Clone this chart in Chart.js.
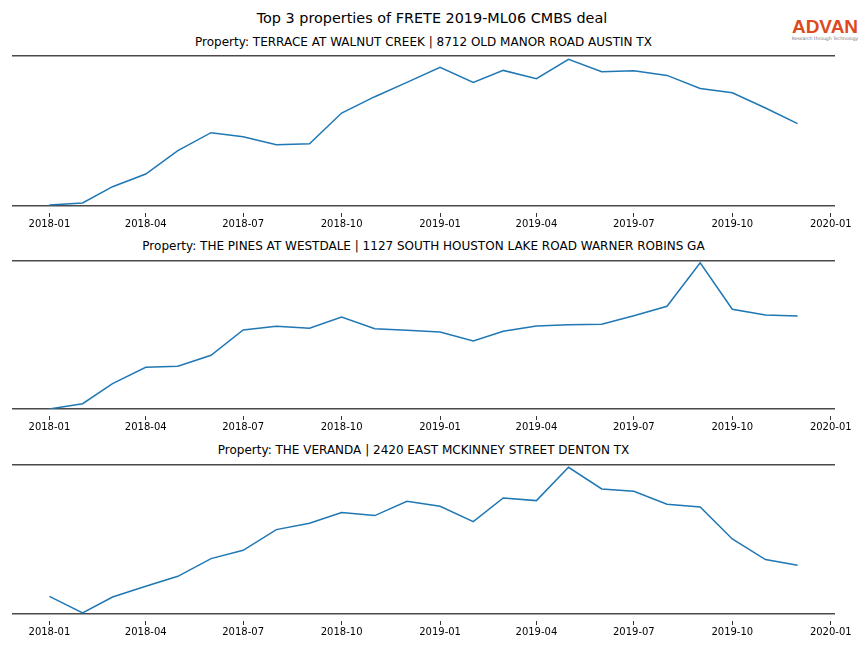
<!DOCTYPE html>
<html lang="en">
<head>
    <meta charset="UTF-8">
    <script src="https://cdn.jsdelivr.net/npm/chart.js"></script>
    <title>Top 3 properties of FRETE 2019-ML06 CMBS deal</title>
    <style>
        body { margin: 0; background: #fff; font-family: "DejaVu Sans", sans-serif; }
        #page { position: relative; width: 864px; height: 648px; overflow: hidden; }
        #titulo { position: absolute; top: 10px; left: 0; width: 864px; text-align: center; font-size: 14.4px; color: #000; }
        .sub { position: absolute; left: 12px; width: 823px; text-align: center; font-size: 12px; color: #000; }
        .painel { position: absolute; left: 0; width: 864px; }
        #logo { position: absolute; left: 788px; top: 17px; width: 74px; text-align: center; }
        #logo .marca { font-family: "Liberation Sans", sans-serif; font-weight: bold; font-size: 19px; color: #dd4a1e; line-height: 19px; }
        #logo .slogan { font-size: 4.5px; color: #777; line-height: 6px; white-space: nowrap; }
    </style>
</head>
<body>
<div id="page">
    <div id="titulo">Top 3 properties of FRETE 2019-ML06 CMBS deal</div>
    <div id="logo"><div class="marca">ADVAN</div><div class="slogan">Research through Technology</div></div>

    <div class="sub" style="top:35px">Property: TERRACE AT WALNUT CREEK | 8712 OLD MANOR ROAD AUSTIN TX</div>
    <div class="painel" style="top:51px;height:181px"><canvas id="g1"></canvas></div>

    <div class="sub" style="top:239px">Property: THE PINES AT WESTDALE | 1127 SOUTH HOUSTON LAKE ROAD WARNER ROBINS GA</div>
    <div class="painel" style="top:256px;height:179px"><canvas id="g2"></canvas></div>

    <div class="sub" style="top:443px">Property: THE VERANDA | 2420 EAST MCKINNEY STREET DENTON TX</div>
    <div class="painel" style="top:460px;height:180px"><canvas id="g3"></canvas></div>
</div>

<script>
    // meses dos dados (mensal)
    const meses = ['2018-01', '2018-02', '2018-03', '2018-04', '2018-05', '2018-06',
        '2018-07', '2018-08', '2018-09', '2018-10', '2018-11', '2018-12',
        '2019-01', '2019-02', '2019-03', '2019-04', '2019-05', '2019-06',
        '2019-07', '2019-08', '2019-09', '2019-10', '2019-11', '2019-12'];

    const rotulosX = ['2018-01', '2018-04', '2018-07', '2018-10', '2019-01',
        '2019-04', '2019-07', '2019-10', '2020-01'];

    // valores (escala relativa, sem eixo y)
    const terrace = [1.0, 3.0, 19.3, 32.0, 55.3, 73.3, 69.3, 61.3, 62.3, 93.0, 109.3, 123.6,
        138.6, 123.6, 135.6, 127.3, 146.6, 134.3, 135.3, 130.6, 117.6, 113.3, 98.0, 82.3];
    const pines = [0.0, 5.3, 25.3, 41.7, 42.7, 53.7, 79.0, 82.7, 80.7, 92.0, 80.3, 78.7,
        77.0, 68.0, 77.7, 83.0, 84.3, 84.7, 93.3, 102.7, 146.3, 99.7, 94.0, 93.0];
    const veranda = [17.7, 1.0, 17.0, 27.7, 37.7, 55.4, 63.7, 84.4, 90.7, 101.4, 98.4, 112.7,
        107.7, 92.4, 116.0, 113.4, 146.7, 125.0, 122.7, 109.7, 107.0, 75.0, 54.4, 48.7];

    function paraDia(str) {
        const [a, m] = str.split('-').map(Number);
        return Date.UTC(a, m - 1, 1) / 86400000;
    }

    function diaParaRotulo(d) {
        const dt = new Date(d * 86400000);
        const m = dt.getUTCMonth() + 1;
        return dt.getUTCFullYear() + '-' + (m < 10 ? '0' + m : m);
    }

    const xDias = meses.map(paraDia);
    const primeiro = xDias[0];
    const ultimo = xDias[xDias.length - 1];
    const margem = (ultimo - primeiro) * 0.05;

    function criarGrafico(id, valores, yMax) {
        const ctx = document.getElementById(id).getContext('2d');
        return new Chart(ctx, {
            type: 'line',
            data: {
                datasets: [{
                    data: valores.map((v, i) => ({ x: xDias[i], y: v })),
                    borderColor: '#1f77b4',
                    borderWidth: 1.5,
                    pointRadius: 0,
                    tension: 0,
                    fill: false
                }]
            },
            options: {
                responsive: true,
                maintainAspectRatio: false,
                animation: false,
                layout: { padding: { top: 5, left: 12, right: 29, bottom: 0 } },
                plugins: {
                    legend: { display: false },
                    tooltip: { enabled: false }
                },
                scales: {
                    x: {
                        type: 'linear',
                        min: primeiro - margem,
                        max: ultimo + margem,
                        afterBuildTicks: axis => {
                            axis.ticks = rotulosX.map(r => ({ value: paraDia(r) }));
                        },
                        afterFit: axis => { axis.height = 26; },
                        ticks: {
                            autoSkip: false,
                            maxRotation: 0,
                            padding: 1,
                            color: '#000',
                            font: { family: 'DejaVu Sans', size: 10 },
                            callback: v => diaParaRotulo(v)
                        },
                        grid: {
                            drawOnChartArea: false,
                            drawTicks: true,
                            tickLength: 11,
                            tickBorderDash: [0, 7, 4, 30],
                            tickColor: '#000',
                            tickWidth: 0.8
                        },
                        border: { display: false }
                    },
                    y: {
                        min: 0,
                        max: yMax,
                        afterBuildTicks: axis => {
                            axis.ticks = [{ value: 0 }, { value: yMax }];
                        },
                        afterFit: axis => { axis.width = 0; },
                        ticks: { display: false },
                        grid: {
                            drawTicks: false,
                            color: '#4a4a4a',
                            lineWidth: 1.6
                        },
                        border: { display: false }
                    }
                }
            }
        });
    }

    criarGrafico('g1', terrace, 150);
    criarGrafico('g2', pines, 148);
    criarGrafico('g3', veranda, 149);
</script>
</body>
</html>
